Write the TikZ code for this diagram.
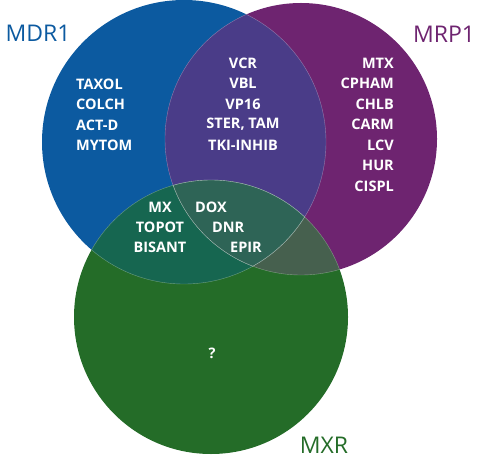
\documentclass[tikz,border=0pt]{standalone}
\usepackage{fontspec}
\setmainfont{Open Sans}
\definecolor{cA}{RGB}{12,90,160}
\definecolor{cB}{RGB}{110,36,112}
\definecolor{cC}{RGB}{36,108,40}
\definecolor{cAB}{RGB}{74,60,136}
\definecolor{cAC}{RGB}{22,102,80}
\definecolor{cBC}{RGB}{70,96,78}
\definecolor{cABC}{RGB}{46,100,86}
\tikzset{
  drug/.style={text=white,font=\fontsize{14.5}{20}\selectfont\bfseries,inner sep=0pt},
  setlabel/.style={font=\fontsize{23}{26}\selectfont,inner sep=0pt},
  edge/.style={draw=white,draw opacity=0.35,line width=0.4pt}
}
\begin{document}
\begin{tikzpicture}[x=1pt,y=-1pt]
\useasboundingbox (0,0) rectangle (478,462);
\coordinate (A) at (184,142);
\coordinate (B) at (301,139);
\coordinate (C) at (211,317);
\def\rA{142pt}\def\rB{136pt}\def\rC{137pt}
\fill[cA] (A) circle[radius=\rA];
\fill[cB] (B) circle[radius=\rB];
\fill[cC] (C) circle[radius=\rC];
\begin{scope}
  \clip (A) circle[radius=\rA];
  \fill[cAB] (B) circle[radius=\rB];
  \fill[cAC] (C) circle[radius=\rC];
\end{scope}
\begin{scope}
  \clip (B) circle[radius=\rB];
  \fill[cBC] (C) circle[radius=\rC];
\end{scope}
\begin{scope}
  \clip (A) circle[radius=\rA];
  \clip (B) circle[radius=\rB];
  \fill[cABC] (C) circle[radius=\rC];
\end{scope}
\begin{scope}
  \clip (A) circle[radius=\rA];
  \draw[edge] (B) circle[radius=\rB];
  \draw[edge] (C) circle[radius=\rC];
\end{scope}
\begin{scope}
  \clip (B) circle[radius=\rB];
  \draw[edge] (A) circle[radius=\rA];
  \draw[edge] (C) circle[radius=\rC];
\end{scope}
\begin{scope}
  \clip (C) circle[radius=\rC];
  \draw[edge] (A) circle[radius=\rA];
  \draw[edge] (B) circle[radius=\rB];
\end{scope}
% set labels
\node[setlabel,text=cA] (lA) at (38,33) {MDR1};
\node[setlabel,text=cB] (lB) at (444,34) {MRP1};
\node[setlabel,text=cC] (lC) at (324,445) {MXR};
% MDR1 only
\node[drug,anchor=west] (t1) at (76,84) {TAXOL};
\node[drug,anchor=west] (t2) at (76,104.5) {COLCH};
\node[drug,anchor=west] (t3) at (76,125) {ACT-D};
\node[drug,anchor=west] (t4) at (76,145.5) {MYTOM};
% MDR1 & MRP1
\node[drug] (v1) at (243,63) {VCR};
\node[drug] (v2) at (243,83.5) {VBL};
\node[drug] (v3) at (243,104) {VP16};
\node[drug] (v4) at (243,124.5) {STER, TAM};
\node[drug] (v5) at (243,145) {TKI-INHIB};
% MRP1 only
\node[drug,anchor=east] (m1) at (394,63) {MTX};
\node[drug,anchor=east] (m2) at (394,83.5) {CPHAM};
\node[drug,anchor=east] (m3) at (394,104) {CHLB};
\node[drug,anchor=east] (m4) at (394,124.5) {CARM};
\node[drug,anchor=east] (m5) at (394,145) {LCV};
\node[drug,anchor=east] (m6) at (394,165.5) {HUR};
\node[drug,anchor=east] (m7) at (394,186) {CISPL};
% MDR1 & MXR
\node[drug] (x1) at (160,207) {MX};
\node[drug] (x2) at (160,227) {TOPOT};
\node[drug] (x3) at (160,247) {BISANT};
% all three
\node[drug,anchor=west] (d1) at (195,207) {DOX};
\node[drug,anchor=west] (d2) at (212,227) {DNR};
\node[drug,anchor=west] (d3) at (230,247) {EPIR};
% MXR only
\node[drug] (q) at (212,353) {?};
\end{tikzpicture}
\end{document}
